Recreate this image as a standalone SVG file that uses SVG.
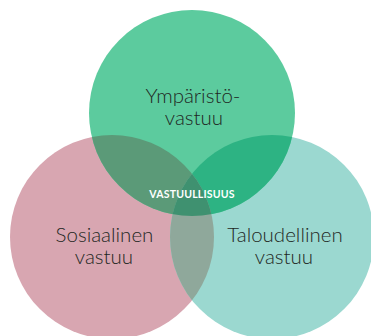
<svg xmlns="http://www.w3.org/2000/svg" width="371" height="336" viewBox="0 0 371 336">
<style>
.lbl{font-family:Lato,"Open Sans","Liberation Sans",sans-serif;font-size:20.5px;fill:#1f2824;text-anchor:middle;font-weight:300}
.core{font-family:Lato,"Open Sans","Liberation Sans",sans-serif;font-size:10.5px;fill:#ffffff;text-anchor:middle;font-weight:700;letter-spacing:0.2px}
</style>
<defs>
<clipPath id="cG"><circle cx="192" cy="113" r="103"/></clipPath>
<clipPath id="cP"><circle cx="112" cy="237" r="102"/></clipPath>
</defs>
<rect width="371" height="336" fill="#ffffff"/>
<g id="social"><circle cx="112" cy="237" r="102" fill="#d8a6b1"/></g>
<g id="economic"><circle cx="272" cy="237" r="102" fill="#9bd8d0"/></g>
<g id="environment"><circle cx="192" cy="113" r="103" fill="#5ccb9e"/></g>
<g id="overlaps">
<circle cx="112" cy="237" r="102" fill="#5b9a78" clip-path="url(#cG)"/>
<circle cx="272" cy="237" r="102" fill="#2db383" clip-path="url(#cG)"/>
<circle cx="272" cy="237" r="102" fill="#8fa89b" clip-path="url(#cP)"/>
<g clip-path="url(#cP)"><circle cx="272" cy="237" r="102" fill="#3f9170" clip-path="url(#cG)"/></g>
</g>
<g id="labels">
<text class="lbl" x="193" y="103">Ympäristö-</text>
<text class="lbl" x="194" y="125">vastuu</text>
<text class="lbl" x="104.5" y="242">Sosiaalinen</text>
<text class="lbl" x="104" y="264">vastuu</text>
<text class="lbl" x="285" y="242">Taloudellinen</text>
<text class="lbl" x="284" y="264">vastuu</text>
<text class="core" x="192" y="198">VASTUULLISUUS</text>
</g>
</svg>
